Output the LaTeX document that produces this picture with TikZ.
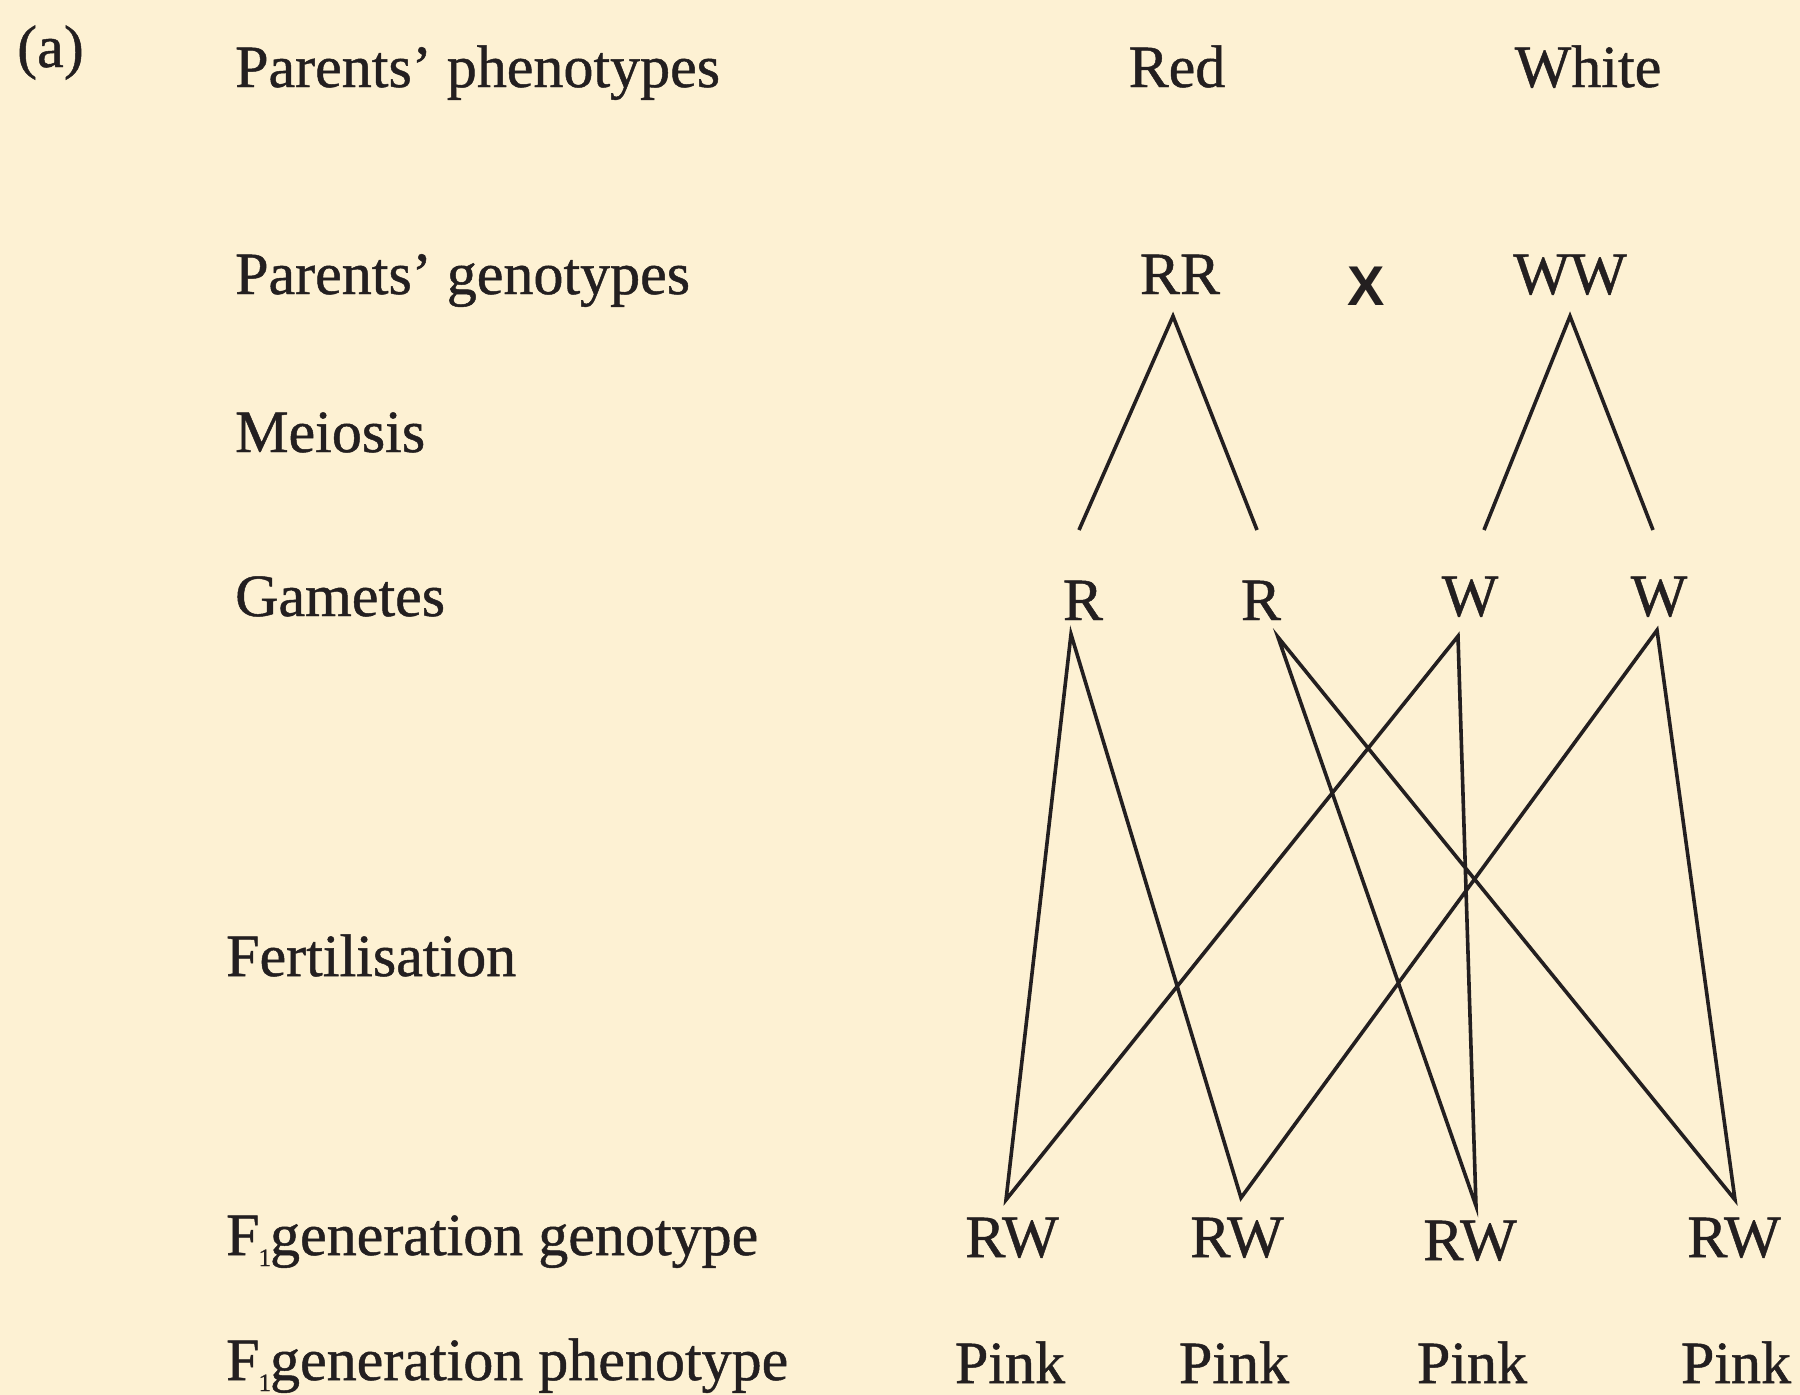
\documentclass[tikz,border=0pt]{standalone}
\usepackage{fontspec}
\setmainfont{Liberation Serif}[FakeBold=0.8]
\newfontfamily\crossfont{Liberation Sans}
\definecolor{paper}{RGB}{253,241,211}
\definecolor{ink}{RGB}{35,31,32}
% subscript "1" tucked under the F of F1
\newcommand{\fone}{F\kern-1pt\raisebox{-11pt}{\fontsize{25}{25}\selectfont 1}\kern-1pt}
\begin{document}
\begin{tikzpicture}[x=1pt,y=-1pt,
  txt/.style={inner sep=0pt, anchor=base west, text=ink, font=\fontsize{60}{72}\selectfont},
  gene/.style={inner sep=0pt, anchor=base, text=ink, font=\fontsize{60}{72}\selectfont,
               text height=40pt, text depth=0pt},
  crossmark/.style={inner sep=0pt, anchor=base, text=ink, font=\crossfont\bfseries\fontsize{56}{66}\selectfont},
  link/.style={draw=ink, line width=3.6pt, line join=miter, line cap=butt}]

% page
\fill[paper] (0,0) rectangle (1800,1395);
\useasboundingbox (0,0) rectangle (1800,1395);

% row labels
\node[txt] (tag)   at (17,67)   {(a)};
\node[txt] (lphen) at (235,87)  {Parents’ phenotypes};
\node[txt] (lgen)  at (235,294) {Parents’ genotypes};
\node[txt] (lmei)  at (235,452) {Meiosis};
\node[txt] (lgam)  at (235,616) {Gametes};
\node[txt] (lfert) at (226,976) {Fertilisation};
\node[txt] (lf1g)  at (226,1255) {\fone generation genotype};
\node[txt] (lf1p)  at (226,1380) {\fone generation phenotype};

% parents
\node[gene] (red)   at (1177,87)  {Red};
\node[gene] (white) at (1588,87)  {White};
\node[gene] (RR)    at (1180,294) {RR};
\node[gene] (WW)    at (1570,294) {WW};
\node[crossmark] (cross) at (1366,305) {X};

% gametes
\node[gene] (R1) at (1083,620) {R};
\node[gene] (R2) at (1261,620) {R};
\node[gene] (W1) at (1470,616) {W};
\node[gene] (W2) at (1659,616) {W};

% offspring genotypes and phenotypes
\node[gene] (F1) at (1012,1257) {RW};
\node[gene] (F2) at (1237,1257) {RW};
\node[gene] (F3) at (1470,1260) {RW};
\node[gene] (F4) at (1734,1257) {RW};
\node[gene] (P1) at (1010,1383) {Pink};
\node[gene] (P2) at (1234,1383) {Pink};
\node[gene] (P3) at (1472,1383) {Pink};
\node[gene] (P4) at (1736,1383) {Pink};

% meiosis: line ends
\coordinate (RRf) at ([xshift=-7pt,yshift=-22pt]RR.south);
\coordinate (WWf) at ([yshift=-22pt]WW.south);
\coordinate (mR1) at (1079,530);
\coordinate (mR2) at (1257,530);
\coordinate (mW1) at (1484,530);
\coordinate (mW2) at (1653,530);

% fertilisation: line ends under the gametes and over the offspring
\coordinate (R1f) at ([xshift=-12pt,yshift=-14pt]R1.south);
\coordinate (R2f) at ([xshift=17pt,yshift=-17pt]R2.south);
\coordinate (W1f) at ([xshift=-12pt,yshift=-20pt]W1.south);
\coordinate (W2f) at ([xshift=-2pt,yshift=-14pt]W2.south);
\coordinate (F1h) at ([xshift=-6pt,yshift=17pt]F1.north);
\coordinate (F2h) at ([xshift=4pt,yshift=19pt]F2.north);
\coordinate (F3h) at ([xshift=6pt,yshift=14pt]F3.north);
\coordinate (F4h) at ([xshift=1pt,yshift=17pt]F4.north);

\draw[link] (mR1) -- (RRf) -- (mR2);
\draw[link] (mW1) -- (WWf) -- (mW2);

\draw[link] (F1h) -- (R1f) -- (F2h) -- (W2f) -- (F4h) -- (R2f) -- (F3h) -- (W1f) -- cycle;
\end{tikzpicture}
\end{document}
